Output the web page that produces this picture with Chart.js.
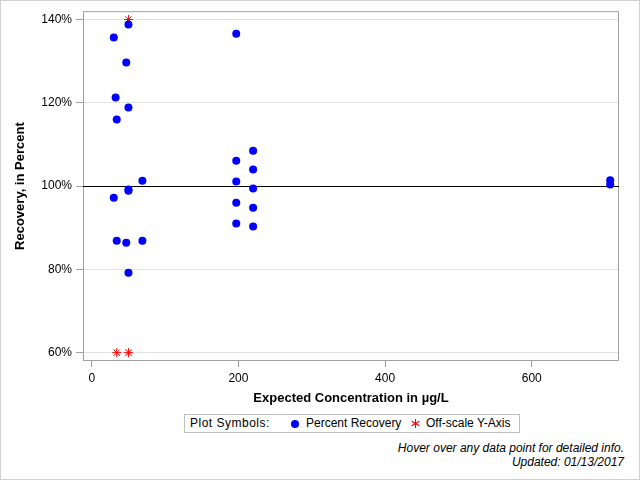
<!DOCTYPE html>
<html>
<head>
<meta charset="utf-8">
<script src="https://cdn.jsdelivr.net/npm/chart.js@4"></script>
<style>
  html, body { margin: 0; padding: 0; background: #fff; }
  #frame {
    position: relative; width: 640px; height: 480px; box-sizing: border-box;
    border: 1px solid #d0d0d0; font-family: "Liberation Sans", Arial, sans-serif;
  }
  #wrap { position: absolute; left: -1px; top: -1px; width: 640px; height: 410px; }
  #legend {
    position: absolute; left: 183px; top: 413px; width: 334px; height: 17px;
    border: 1px solid #c0c0c0; font-size: 12px; color: #000; line-height: 17px;
  }
  #legend span { position: absolute; top: 0; white-space: nowrap; }
  #legend svg { display: block; }
  .dot { display: inline-block; width: 8px; height: 8px; border-radius: 50%; background: #0000ff; }
  .foot { position: absolute; right: 15px; font-size: 12px; font-style: italic; color: #000; white-space: nowrap; }
</style>
</head>
<body>
<div id="frame">
  <div id="wrap"><canvas id="chart"></canvas></div>
  <div id="legend">
    <span style="left:5px;letter-spacing:0.5px">Plot Symbols:</span>
    <span style="left:106px;top:5px" class="dot"></span>
    <span style="left:121px">Percent Recovery</span>
    <span style="left:226px;top:4px">
      <svg width="9" height="9" viewBox="0 0 9 9"><g stroke="#ff0000" stroke-width="1.1">
        <line x1="4.5" y1="0" x2="4.5" y2="9"/><line x1="0.6" y1="2.2" x2="8.4" y2="6.8"/><line x1="0.6" y1="6.8" x2="8.4" y2="2.2"/></g></svg>
    </span>
    <span style="left:241px">Off-scale Y-Axis</span>
  </div>
  <div class="foot" style="top:440px">Hover over any data point for detailed info.</div>
  <div class="foot" style="top:454px">Updated: 01/13/2017</div>
</div>
<script>
// ─── DATA ─────────────────────────────────────────────────────────────────────
const RECOVERY_X = [50, 30, 197, 47, 32.5, 50, 34, 220, 197, 220, 69, 197, 220, 50, 50, 30, 197, 220, 197, 220, 34, 47, 69, 50, 707, 707];
const RECOVERY_Y = [138.8, 135.7, 136.6, 129.7, 121.3, 118.9, 116.0, 108.5, 106.1, 104.0, 101.3, 101.1, 99.4, 99.2, 98.9, 97.2, 96.0, 94.8, 91.0, 90.3, 86.9, 86.4, 86.9, 79.2, 101.4, 100.4];

const OFFSCALE_X = [50, 34, 50];
const OFFSCALE_Y = [140, 60, 60];

const X_TICKS = [0, 200, 400, 600];
const Y_TICKS = [60, 80, 100, 120, 140];
const REF_LINE = 100;

const FONT = "'Liberation Sans', Arial, sans-serif";

// ─── PLUGINS ──────────────────────────────────────────────────────────────────
const framePlugin = {
  id: "frame",
  beforeDatasetsDraw(chart) {
    const { ctx, chartArea: a, scales } = chart;
    ctx.save();
    ctx.strokeStyle = "#a0a0a0";
    ctx.lineWidth = 1;
    ctx.strokeRect(a.left + 0.5, a.top + 0.5, a.right - a.left - 1, a.bottom - a.top - 1);
    const y = Math.round(scales.y.getPixelForValue(REF_LINE)) + 0.5;
    ctx.strokeStyle = "#000";
    ctx.beginPath();
    ctx.moveTo(a.left, y);
    ctx.lineTo(a.right, y);
    ctx.stroke();
    ctx.restore();
  }
};

// ─── CHART ────────────────────────────────────────────────────────────────────
new Chart(document.getElementById("chart"), {
  type: "scatter",
  data: {
    datasets: [
      {
        label: "Percent Recovery",
        data: RECOVERY_X.map((x, i) => ({ x, y: RECOVERY_Y[i] })),
        pointStyle: "circle",
        pointRadius: 4,
        backgroundColor: "#0000ff",
        borderColor: "#0000ff",
        borderWidth: 0,
      },
      {
        label: "Off-scale Y-Axis",
        data: OFFSCALE_X.map((x, i) => ({ x, y: OFFSCALE_Y[i] })),
        pointStyle: "star",
        pointRadius: 4.5,
        backgroundColor: "#ff0000",
        borderColor: "#ff0000",
        borderWidth: 1,
      },
    ]
  },
  options: {
    responsive: true, maintainAspectRatio: false, animation: false,
    layout: { padding: { top: 11, right: 21, left: 0, bottom: 0 } },
    scales: {
      x: {
        type: "linear", min: -12, max: 719,
        afterBuildTicks: s => { s.ticks = X_TICKS.map(v => ({ value: v })); },
        afterFit: s => { s.height = 49; },
        grid: { drawOnChartArea: false, drawTicks: true, tickLength: 6, tickColor: "#a0a0a0" },
        border: { display: false },
        ticks: { color: "#000", padding: 4, font: { family: FONT, size: 12 } },
        title: {
          display: true, text: "Expected Concentration in µg/L", color: "#000",
          padding: { top: 0, bottom: 4 }, font: { family: FONT, size: 13, weight: "bold" }
        }
      },
      y: {
        type: "linear", min: 58, max: 142,
        afterBuildTicks: s => { s.ticks = Y_TICKS.map(v => ({ value: v })); },
        afterFit: s => { s.width = 83; },
        grid: { color: "#e3e3e3", drawTicks: true, tickLength: 7, tickColor: "#a0a0a0" },
        border: { display: false },
        ticks: { color: "#000", padding: 4, font: { family: FONT, size: 12 }, callback: v => v + "%" },
        title: {
          display: true, text: "Recovery, in Percent", color: "#000",
          padding: { top: 13, bottom: 0 }, font: { family: FONT, size: 13, weight: "bold" }
        }
      }
    },
    plugins: {
      legend: { display: false },
      tooltip: { enabled: true }
    }
  },
  plugins: [framePlugin]
});
</script>
</body>
</html>
